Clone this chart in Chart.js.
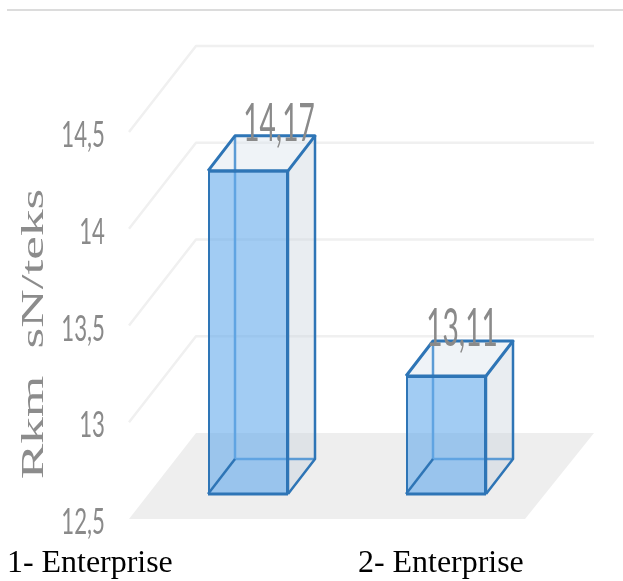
<!DOCTYPE html>
<html>
<head>
<meta charset="UTF-8">
<title>Rkm sN/teks</title>
<script src="https://cdn.jsdelivr.net/npm/chart.js@4/dist/chart.umd.min.js"></script>
<style>
	html, body { margin: 0; background: #fff; }
	canvas { display: block; }
</style>
</head>
<body>
<canvas id="myChart" width="623" height="581"></canvas>
<script>
var categories = ['1- Enterprise', '2- Enterprise'];
var rkmValues = [14.17, 13.11];
var valueLabels = ['14,17', '13,11'];
var tickValues = [12.5, 13, 13.5, 14, 14.5];
var tickLabels = ['12,5', '13', '13,5', '14', '14,5'];
var axisTitle = 'Rkm sN/teks';

// fake 3D set-up, all in pixels
var floorDx = 68, floorDy = -86;   // front of the floor to the back wall
var barLift = 25;                  // bars stand this far up from the front edge
var barDx = 27, barDy = -35;       // depth of one bar
var labelShift = [31, 16];
var bottomLabelX = [7, 358];

// text squeezed or stretched horizontally
function stretchedText(ctx, text, x, y, sx, font, color, align) {
	ctx.save();
	ctx.translate(x, y);
	ctx.scale(sx, 1);
	ctx.font = font;
	ctx.fillStyle = color;
	ctx.textAlign = align;
	ctx.textBaseline = 'alphabetic';
	ctx.fillText(text, 0, 0);
	ctx.restore();
}

function poly(ctx, pts, fill, stroke, lw) {
	ctx.beginPath();
	ctx.moveTo(pts[0][0], pts[0][1]);
	for (var i = 1; i < pts.length; i++) ctx.lineTo(pts[i][0], pts[i][1]);
	if (fill) {
		ctx.closePath();
		ctx.fillStyle = fill;
		ctx.fill();
	}
	if (stroke) {
		ctx.strokeStyle = stroke;
		ctx.lineWidth = lw;
		ctx.lineJoin = 'round';
		ctx.stroke();
	}
}

var box3d = {
	id: 'box3d',
	beforeDatasetsDraw: function(chart) {
		var ctx = chart.ctx, y = chart.scales.y;
		var left = 129, right = 525;

		// separator line above the chart
		ctx.fillStyle = '#dcdcdc';
		ctx.fillRect(7, 9, 616, 2);

		// floor
		var y0 = y.getPixelForValue(tickValues[0]);
		poly(ctx, [[left, y0], [right, y0], [right + floorDx + 1, y0 + floorDy], [left + floorDx - 1, y0 + floorDy]], '#eeeeee');

		// side wall and back wall grid lines
		for (var i = 1; i < tickValues.length; i++) {
			var py = y.getPixelForValue(tickValues[i]);
			poly(ctx, [[left, py], [left + floorDx - 1, py + floorDy], [right + floorDx + 1, py + floorDy]], null, '#f0f0f0', 2.5);
		}

		// hidden faces of the bars
		var bars = chart.getDatasetMeta(0).data;
		bars.forEach(function(bar) {
			var l = bar.x - bar.width / 2, r = bar.x + bar.width / 2;
			var t = bar.y - barLift, b = bar.base - barLift;
			poly(ctx, [[l, b], [r, b], [r + barDx, b + barDy], [l + barDx, b + barDy]], 'rgba(225,232,240,0.4)');
			poly(ctx, [[r, t], [r + barDx, t + barDy], [r + barDx, b + barDy], [r, b]], 'rgba(200,210,220,0.4)');
			poly(ctx, [[l, t], [r, t], [r + barDx, t + barDy], [l + barDx, t + barDy]], 'rgba(215,225,235,0.4)');
			poly(ctx, [[l + barDx, t + barDy], [l + barDx, b + barDy], [r + barDx, b + barDy]], null, '#5b9bd5', 2.5);
		});
	},
	beforeDatasetDraw: function(chart) {
		chart.ctx.save();
		chart.ctx.translate(0, -barLift);
	},
	afterDatasetDraw: function(chart) {
		chart.ctx.restore();
	},
	afterDatasetsDraw: function(chart) {
		var ctx = chart.ctx, y = chart.scales.y;
		var bars = chart.getDatasetMeta(0).data;

		bars.forEach(function(bar, i) {
			var l = bar.x - bar.width / 2, r = bar.x + bar.width / 2;
			var t = bar.y - barLift, b = bar.base - barLift;
			var stroke = '#2e75b6';
			poly(ctx, [[r, t], [r, b]], null, stroke, 2.5);
			poly(ctx, [[r + barDx, t + barDy], [r + barDx, b + barDy], [r, b]], null, stroke, 2.5);
			poly(ctx, [[l, b], [l + barDx, b + barDy]], null, stroke, 2.5);
			poly(ctx, [[l, t], [r, t], [r + barDx, t + barDy], [l + barDx, t + barDy], [l, t]], null, stroke, 3);
			poly(ctx, [[l, b], [r, b]], null, stroke, 3);

			// value above the bar
			stretchedText(ctx, valueLabels[i], bar.x + labelShift[i], t + barDy + 5, 0.54,
				'52px Lato', '#8a8a8a', 'center');
		});

		// value axis labels
		tickValues.forEach(function(v, i) {
			stretchedText(ctx, tickLabels[i], 105, y.getPixelForValue(v) + 15, 0.6,
				'37px Lato', '#8a8a8a', 'right');
		});

		// axis title, with a wider gap between the two words
		ctx.save();
		ctx.translate(43, 334);
		ctx.rotate(-Math.PI / 2);
		ctx.wordSpacing = '8px';
		stretchedText(ctx, axisTitle, 0, 0, 1.72, '31px "Liberation Serif"', '#8c8c8c', 'center');
		ctx.restore();

		// enterprise names under the chart
		categories.forEach(function(name, i) {
			stretchedText(ctx, name, bottomLabelX[i], 572, 1.03, '31px "Liberation Serif"', '#000000', 'left');
		});
	}
};

var ctx = document.getElementById('myChart').getContext('2d');
var myChart = new Chart(ctx, {
	type: 'bar',
	data: {
		labels: categories,
		datasets: [{
			label: axisTitle,
			data: rkmValues,
			base: tickValues[0],
			backgroundColor: 'rgba(100,170,235,0.6)',
			borderColor: '#2e75b6',
			borderWidth: 2,
			barPercentage: 80 / 198,
			categoryPercentage: 1,
			clip: false
		}]
	},
	options: {
		responsive: false,
		animation: false,
		layout: { padding: { left: 0, right: 78, top: 132, bottom: 62 } },
		plugins: { legend: { display: false }, tooltip: { enabled: false } },
		scales: {
			x: { display: false },
			y: {
				min: tickValues[0],
				max: tickValues[tickValues.length - 1],
				afterFit: function(scale) { scale.width = 149; },
				grid: { display: false },
				border: { display: false },
				ticks: { display: false, stepSize: 0.5 }
			}
		}
	},
	plugins: [box3d]
});
</script>
</body>
</html>
